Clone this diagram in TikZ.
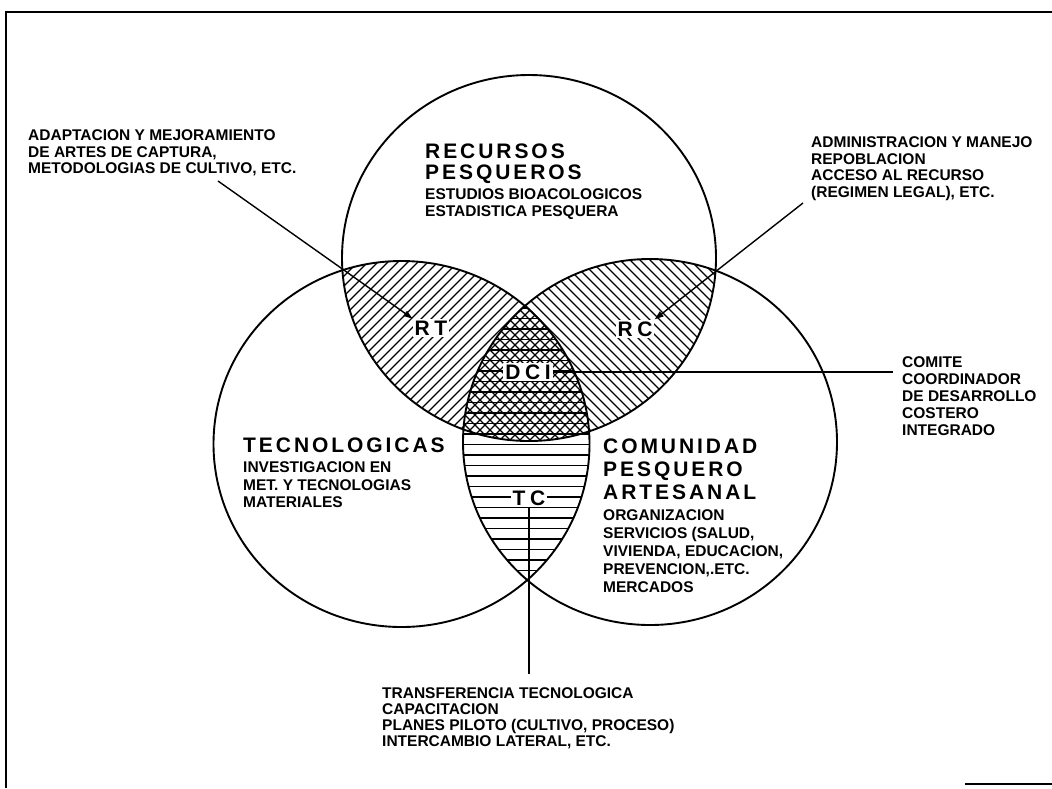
\documentclass[tikz,border=0pt]{standalone}
\usepackage{fontspec}
\setmainfont{Liberation Sans}
\usetikzlibrary{arrows.meta}
\newcommand\hdfont{\fontsize{21}{22}\selectfont\bfseries\addfontfeature{LetterSpace=14}}
\newcommand\rgfont{\fontsize{21}{22}\selectfont\bfseries\addfontfeature{LetterSpace=22}}
\newcommand\bdfont{\fontsize{15.5}{17}\selectfont\bfseries}
\begin{document}
\begin{tikzpicture}[x=1pt,y=-1pt,
  txt/.style={font=\bdfont, align=left, anchor=north west, inner sep=0pt},
  head/.style={font=\hdfont, align=left, anchor=north west, inner sep=0pt},
  reg/.style={font=\rgfont, fill=white, inner sep=2pt},
  ring/.style={line width=1.9pt},
  hatch/.style={line width=1.1pt},
  pointer/.style={line width=1.4pt, -{Triangle[length=9pt,width=6pt]}},
  lead/.style={line width=1.6pt}]
\useasboundingbox (0,0) rectangle (1052,788);
\fill[white] (0,0) rectangle (1052,788);
% frame
\draw[line width=2pt] (6,788) -- (6,12) -- (1052,12);
\draw[line width=2.5pt] (965,784) -- (1052,784);
% RT hatch (top & left)
\begin{scope}
  \clip (529,258) ellipse [x radius=187pt, y radius=183pt];
  \clip (401.5,444) ellipse [x radius=188pt, y radius=183pt];
  \foreach \i in {-28,...,28} \draw[hatch] ({470+10*\i},380) ++(-220,220) -- ++(440,-440);
\end{scope}
% RC hatch (top & right)
\begin{scope}
  \clip (529,258) ellipse [x radius=187pt, y radius=183pt];
  \clip (650,442) ellipse [x radius=187pt, y radius=183pt];
  \foreach \i in {-28,...,28} \draw[hatch] ({590+10*\i},350) ++(-220,-220) -- ++(440,440);
\end{scope}
% TC hatch (left & right)
\begin{scope}
  \clip (401.5,444) ellipse [x radius=188pt, y radius=183pt];
  \clip (650,442) ellipse [x radius=187pt, y radius=183pt];
  \foreach \y in {308,318.5,...,590} \draw[hatch] (430,\y) -- (630,\y);
\end{scope}
% circles
\draw[ring] (529,258) ellipse [x radius=187pt, y radius=183pt];
\draw[ring] (401.5,444) ellipse [x radius=188pt, y radius=183pt];
\draw[ring] (650,442) ellipse [x radius=187pt, y radius=183pt];
% region labels
\node[reg] (RT) at (431,328) {RT};
\node[reg] (RC) at (635,329) {RC};
\node[reg] (DCI) at (528,372) {DCI};
\node[reg] (TC) at (529,498) {TC};
% headings
\node[head, font=\hdfont\fontsize{21}{20.5}\selectfont] (hRec) at (425,144) {RECURSOS\\PESQUEROS};
\node[head] (hTec) at (243,437.5) {TECNOLOGICAS};
\node[head, font=\hdfont\fontsize{21}{23}\selectfont] (hCom) at (603,438.5) {COMUNIDAD\\PESQUERO\\ARTESANAL};
% body texts
\node[txt, font=\bdfont\fontsize{15.5}{16.7}\selectfont] (tl) at (28,129.5) {ADAPTACION Y MEJORAMIENTO\\DE ARTES DE CAPTURA,\\METODOLOGIAS DE CULTIVO, ETC.};
\node[txt, font=\bdfont\fontsize{15.5}{16.7}\selectfont] (tr) at (811,136.5) {ADMINISTRACION Y MANEJO\\REPOBLACION\\ACCESO AL RECURSO\\(REGIMEN LEGAL), ETC.};
\node[txt] (bRec) at (425,188) {ESTUDIOS BIOACOLOGICOS\\ESTADISTICA PESQUERA};
\node[txt, font=\bdfont\fontsize{15.5}{17.5}\selectfont] (bTec) at (243,461.5) {INVESTIGACION EN\\MET. Y TECNOLOGIAS\\MATERIALES};
\node[txt, font=\bdfont\fontsize{15.5}{18}\selectfont] (bCom) at (603,509.5) {ORGANIZACION\\SERVICIOS (SALUD,\\VIVIENDA, EDUCACION,\\PREVENCION,.ETC.\\MERCADOS};
\node[txt] (comite) at (902,356.5) {COMITE\\COORDINADOR\\DE DESARROLLO\\COSTERO\\INTEGRADO};
\node[txt, font=\bdfont\fontsize{15.5}{16}\selectfont] (bot) at (382,687.5) {TRANSFERENCIA TECNOLOGICA\\CAPACITACION\\PLANES PILOTO (CULTIVO, PROCESO)\\INTERCAMBIO LATERAL, ETC.};
% connectors
\coordinate (a1) at (218,181);
\coordinate (a2) at (803,203);
\draw[pointer] (a1) -- (RT.north west);
\draw[pointer] (a2) -- (RC.north east);
\draw[lead, shorten >=9pt] (DCI.east) -- (DCI.east -| comite.west);
\draw[lead, shorten >=14pt] (TC.south) -- (TC.south |- bot.north);
\end{tikzpicture}
\end{document}
